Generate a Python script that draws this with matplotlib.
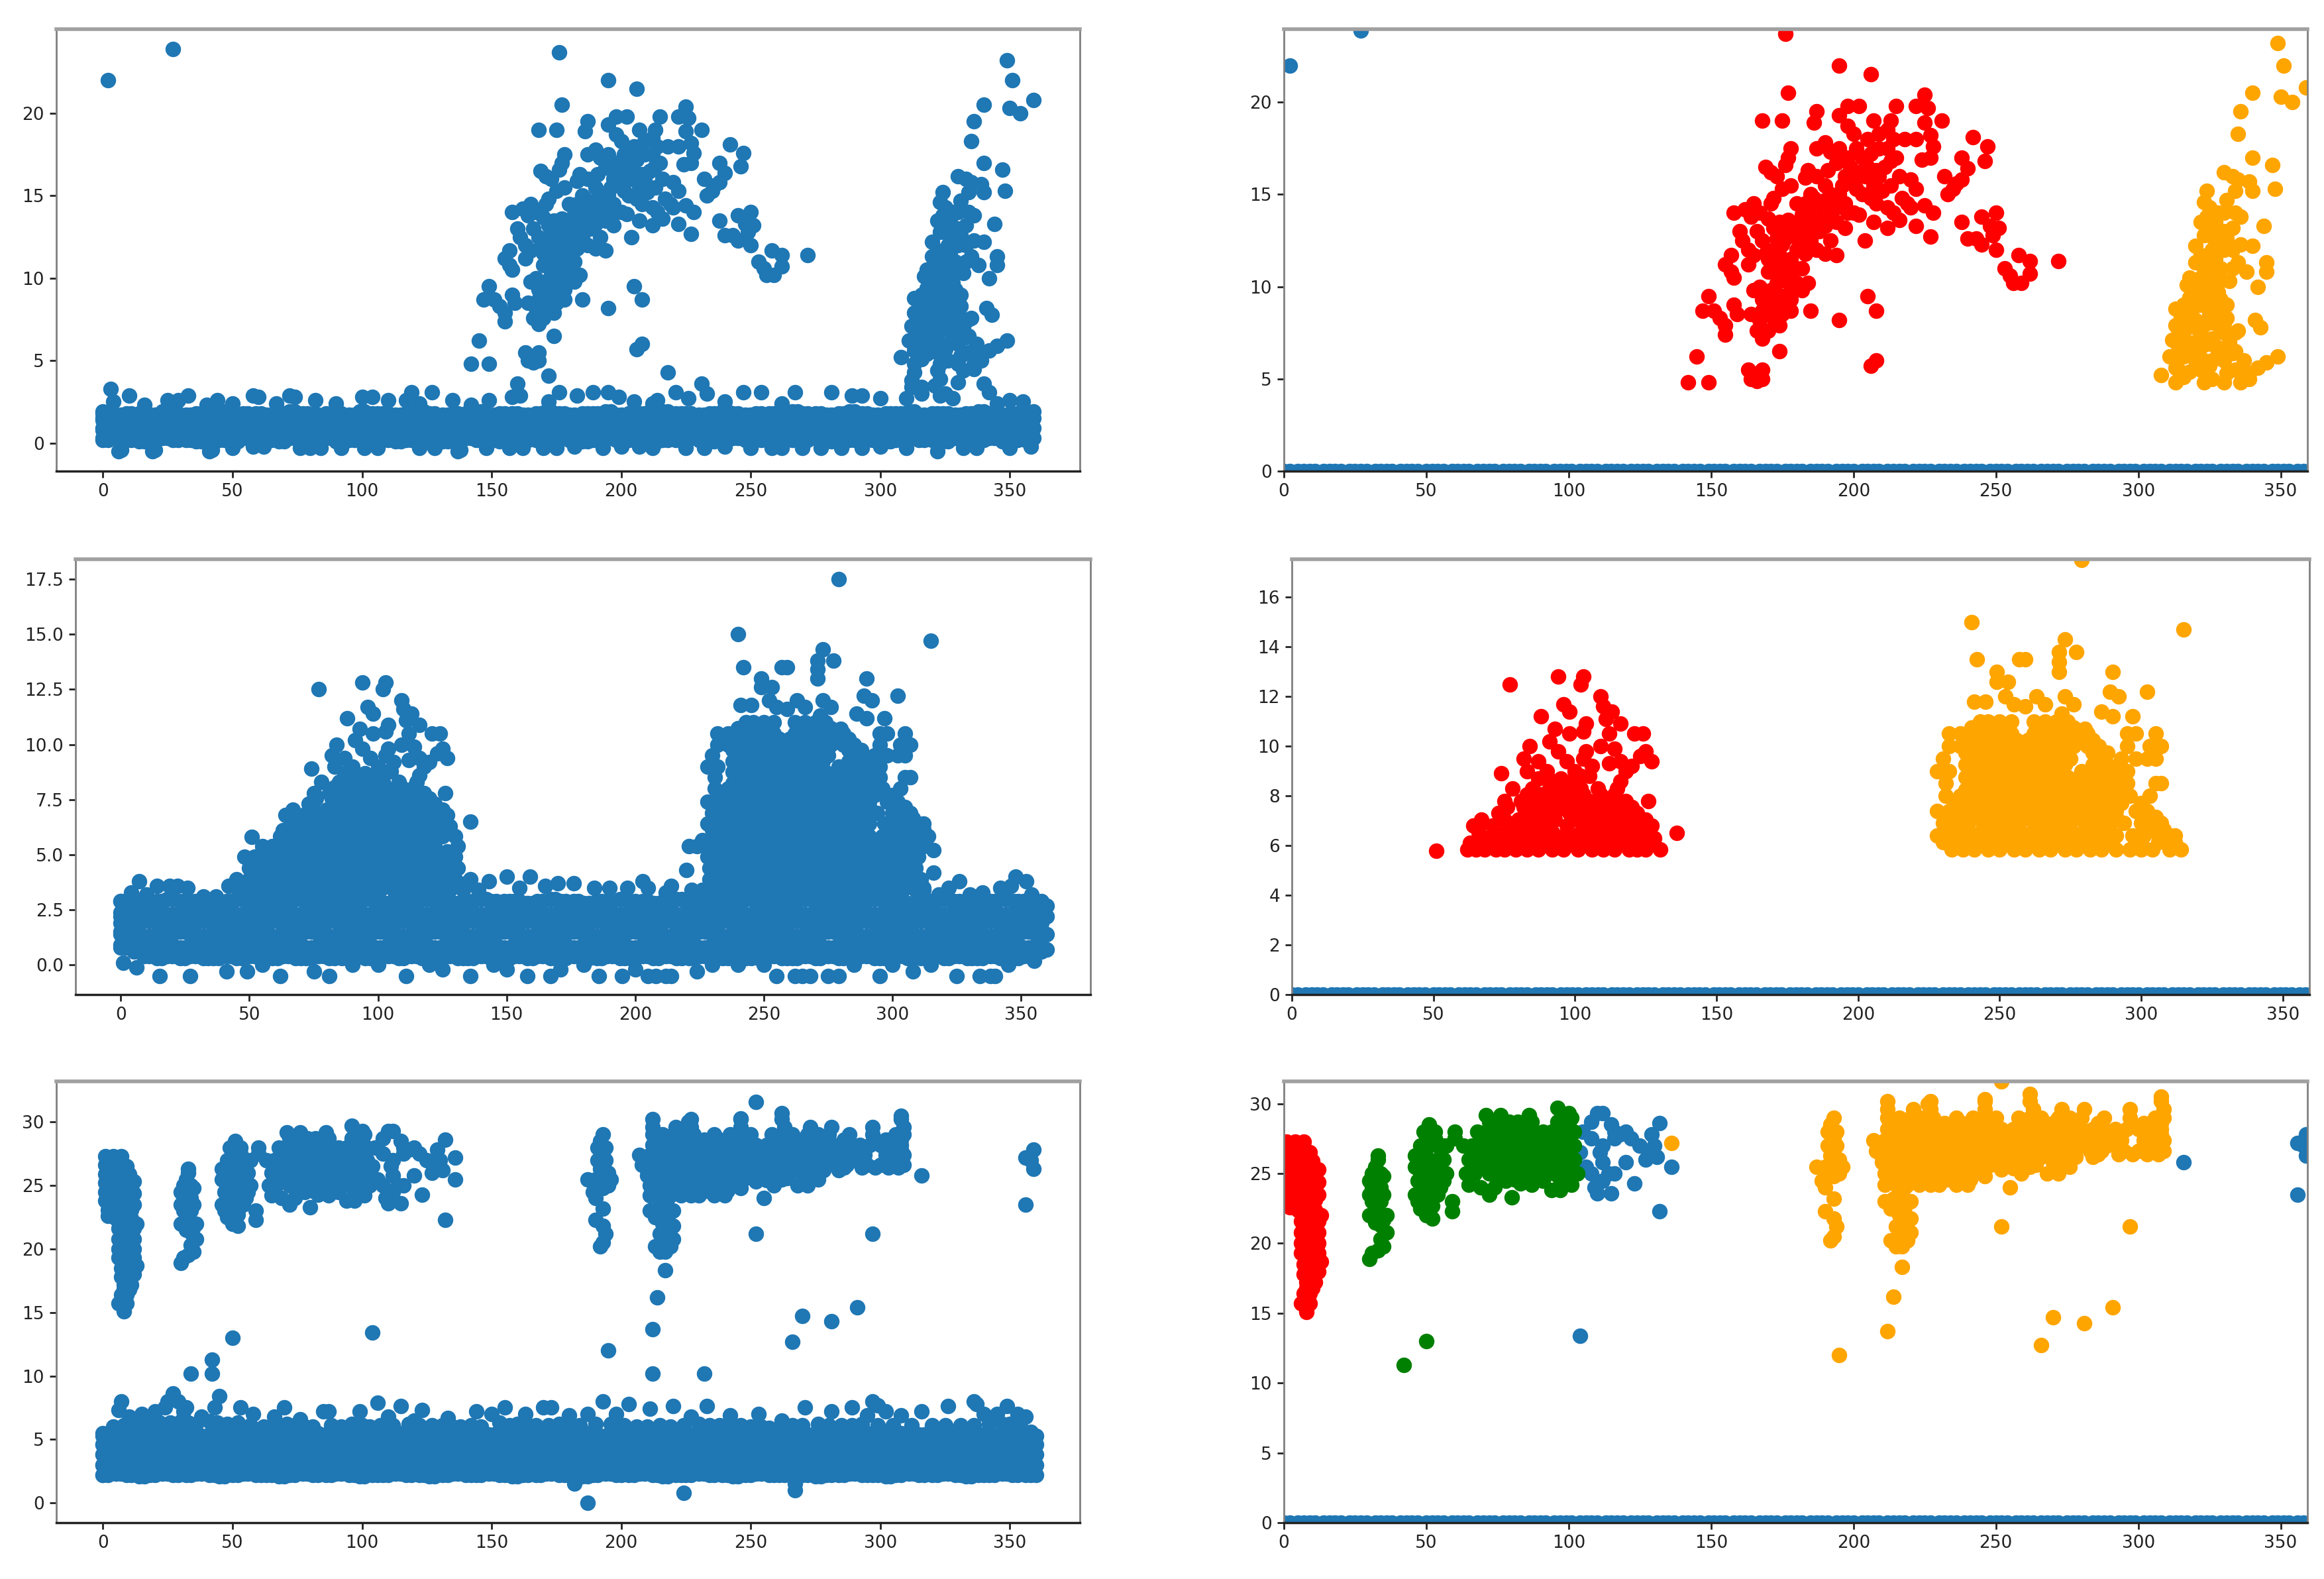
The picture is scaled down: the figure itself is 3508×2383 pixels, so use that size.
import matplotlib
matplotlib.use('Agg')
import matplotlib.pyplot as plt
import numpy as np

MARK = 285
BLUE = "#1f77b4"

# x positions of the saturated bands (estimated, points can't be told apart there)
x_a = [0,5,9,14,18,23,27,32,36,41,45,50,54,59,63,68,72,77,81,86,90,95,99,104,108,113,117,122,126,131,135,140,144,149,153,158,162,167,171,176,
       180,185,189,194,198,203,207,212,216,221,225,230,234,239,243,248,252,257,261,266,270,275,279,284,288,293,297,302,306,311,315,320,324,329,333,338,342,347,351,356]
x_b = [2,7,11,16,20,25,29,34,38,43,47,52,56,61,65,70,74,79,83,88,92,97,101,106,110,115,119,124,128,133,137,142,146,151,155,160,164,169,173,178,
       182,187,191,196,200,205,209,214,218,223,227,232,236,241,245,250,254,259,263,268,272,277,281,286,290,295,299,304,308,313,317,322,326,331,335,340,344,349,353,358]

# ---- first row ----
top_band = [
 [0.2,0.3,0.2,0.1,0.2,0.3,0.2,0.2,0.1,0.3,0.2,0.1,0.3,0.2,0.2,0.1,0.3,0.2,0.2,0.3,0.1,0.2,0.3,0.2,0.2,0.1,0.2,0.3,0.2,0.1,0.2,0.3,0.2,0.2,0.1,0.3,0.2,0.2,0.1,0.3,
  0.2,0.1,0.2,0.3,0.2,0.2,0.3,0.1,0.2,0.2,0.3,0.2,0.1,0.2,0.3,0.2,0.2,0.1,0.3,0.2,0.2,0.3,0.1,0.2,0.2,0.3,0.2,0.1,0.2,0.3,0.2,0.2,0.1,0.3,0.2,0.2,0.3,0.1,0.2,0.2],
 [0.8,0.7,0.9,0.8,0.7,0.8,0.9,0.7,0.8,0.8,0.9,0.7,0.8,0.9,0.8,0.7,0.8,0.9,0.7,0.8,0.8,0.7,0.9,0.8,0.8,0.7,0.9,0.8,0.7,0.8,0.9,0.8,0.7,0.8,0.8,0.9,0.7,0.8,0.9,0.8,
  0.7,0.8,0.9,0.8,0.7,0.8,0.8,0.9,0.7,0.8,0.9,0.8,0.7,0.8,0.8,0.9,0.7,0.8,0.8,0.7,0.9,0.8,0.8,0.7,0.9,0.8,0.7,0.8,0.9,0.8,0.8,0.7,0.9,0.8,0.7,0.8,0.9,0.8,0.7,0.8],
 [1.4,1.3,1.4,1.5,1.3,1.4,1.4,1.5,1.3,1.4,1.3,1.5,1.4,1.4,1.3,1.5,1.4,1.3,1.4,1.5,1.4,1.3,1.4,1.5,1.4,1.3,1.4,1.5,1.3,1.4,1.4,1.5,1.3,1.4,1.4,1.3,1.5,1.4,1.3,1.4,
  1.5,1.4,1.3,1.4,1.4,1.5,1.3,1.4,1.4,1.5,1.3,1.4,1.4,1.3,1.5,1.4,1.3,1.4,1.5,1.4,1.3,1.4,1.4,1.5,1.3,1.4,1.5,1.4,1.3,1.4,1.4,1.5,1.3,1.4,1.4,1.3,1.5,1.4,1.3,1.4],
 [1.8,1.7,1.8,1.8,1.7,1.9,1.8,1.7,1.8,1.8,1.9,1.7,1.8,1.8,1.7,1.8,1.9,1.8,1.7,1.8,1.8,1.7,1.9,1.8,1.8,1.7,1.8,1.9,1.8,1.7,1.8,1.8,1.9,1.7,1.8,1.8,1.7,1.8,1.9,1.8,
  1.7,1.8,1.8,1.9,1.7,1.8,1.8,1.7,1.9,1.8,1.8,1.7,1.8,1.9,1.8,1.7,1.8,1.8,1.7,1.9,1.8,1.8,1.7,1.8,1.9,1.8,1.7,1.8,1.8,1.9,1.7,1.8,1.8,1.7,1.8,1.9,1.8,1.7,1.8,1.8],
]
top_extra = [(0,0.3),(0,0.9),(0,1.5),(0,1.9),(359,0.3),(359,0.9),(359,1.5),(359,1.9),
 (3,3.3),(10,2.9),(4,2.5),(16,2.3),(25,2.6),(33,2.9),(29,2.6),(44,2.6),(58,2.9),(60,2.8),(72,2.9),(74,2.8),(82,2.6),(90,2.4),(100,2.8),(104,2.8),(110,2.6),(119,3.1),(117,2.6),(127,3.1),
 (135,2.6),(149,2.6),(160,3.6),(158,2.8),(161,2.9),(176,3.1),(172,2.5),(183,2.9),(189,3.1),(195,3.1),(199,2.8),(212,2.4),(218,4.3),(221,3.1),(214,2.6),(231,3.6),(233,3),(226,2.7),(247,3.1),
 (254,3.1),(267,3.1),(281,3.1),(289,2.9),(293,2.9),(300,2.7),(310,2.7),(316,3),(312,3.4),(321,3.5),(323,2.9),(340,3.6),(342,3.1),(328,2.7),(345,2.4),(350,2.6),(355,2.5),(262,2.4),(240,2.5),
 (205,2.5),(40,2.3),(50,2.4),(67,2.4),(122,2.4),(142,2.3),(172,4.1),(312,3.8),(313,4.3),(323,3.9),(322,4.4),(330,3.7),(332,4.4),(336,4.5),(325,3),(316,3.4),
 (6,-0.5),(7,-0.4),(19,-0.5),(20,-0.4),(41,-0.5),(42,-0.4),(50,-0.3),(58,-0.2),(62,-0.2),(76,-0.3),(80,-0.3),(84,-0.3),(92,-0.3),(101,-0.3),(106,-0.3),(122,-0.3),(128,-0.3),(137,-0.5),(138,-0.4),
 (148,-0.3),(157,-0.3),(162,-0.3),(170,-0.3),(175,-0.3),(182,-0.2),(193,-0.3),(200,-0.2),(207,-0.2),(212,-0.3),(225,-0.3),(232,-0.3),(240,-0.2),(250,-0.3),(258,-0.3),(262,-0.3),(270,-0.3),
 (277,-0.3),(285,-0.3),(293,-0.3),(300,-0.2),(310,-0.3),(322,-0.5),(332,-0.3),(337,-0.3),(350,-0.3),(358,-0.2)]
top_other = [(2,22),(27,23.9)]
top_red = [(176,23.7),(195,22),(206,21.5),(177,20.5),(225,20.4),(222,19.8),(226,19.7),(215,19.8),(198,19.8),(202,19.8),(187,19.5),(195,19.3),(168,19),(175,19),(186,18.9),(231,19),(207,19),(213,19),
 (225,18.9),(198,18.7),(200,18.3),(227,18.2),(218,18),(222,18),(242,18.1),(228,17.6),(247,17.6),(190,17.8),(187,17.5),(192,17.3),(195,17.5),(178,17.5),(177,17),(176,16.6),(246,16.8),(238,17),
 (227,17),(224,16.9),(240,16.4),(169,16.5),(171,16.2),(173,16),(184,16.3),(183,15.9),(232,16),(238,15.8),(236,15.6),(220,15.8),(222,15.3),(178,15.5),(175,15.3),(233,15),(235,15.3),(172,14.8),
 (171,14.5),(165,14.5),(162,14.2),(158,14),(167,14),(164,13.8),(170,13.7),(172,13.2),(177,13.6),(182,13.9),(185,14),(238,13.5),(245,13.8),(250,14),(248,13.3),(251,13.2),(249,12.8),(243,12.6),
 (245,12.3),(240,12.6),(227,12.7),(222,13.3),(228,14),(225,14.4),(220,14.3),(204,12.5),(212,13.2),(216,13.6),(197,13.2),(202,13.9),(207,13.5),(250,12),(258,11.7),(262,11.4),(272,11.4),(262,10.7),
 (253,11),(255,10.6),(256,10.2),(259,10.2),(190,11.8),(183,11.8),(194,11.7),(187,12),(160,13),(161,12.5),(163,12),(157,11.7),(155,11.2),(157,10.8),(158,10.5),(163,11.2),(165,11.7),(170,11.5),
 (174,11.7),(176,11),(178,10.7),(173,10.2),(167,10),(165,9.8),(168,9.3),(172,9.2),(175,9.5),(180,10.2),(184,10.2),(182,9.8),(178,9.3),(149,9.5),(158,9),(159,8.5),(147,8.7),(151,8.7),(153,8.3),
 (155,7.9),(155,7.4),(164,8.5),(168,8.7),(172,8.3),(175,8.5),(178,8.7),(185,8.7),(195,8.2),(205,9.5),(208,8.7),(166,7.6),(168,7.2),(170,7.6),(174,7.9),(174,6.5),(145,6.2),(208,6),(206,5.7),
 (163,5.5),(168,5.5),(164,5),(166,4.9),(168,5),(142,4.8),(149,4.8),
 (185,15),(188,14.5),(190,15.5),(192,14),(195,15),(197,16),(199,16.5),(201,15.3),(203,17),(205,16.5),(207,15.5),(209,17.5),(211,16.5),(213,15.5),(215,17),(205,18),(209,18.3),(212,18.5),(197,14.5),
 (200,14),(203,15),(208,14.5),(212,14.3),(214,14),(188,13),(190,13.3),(192,12.5),(185,12.5),(182,12.8),(178,12.8),(175,12.3),(172,12),(180,12),(182,11),(178,11.5),(186,13.5),(194,13.5),(198,17),
 (201,17.5),(180,13.3),(183,14.5),(187,16),(191,16.3),(194,16.7),(217,14.8),(219,14.5),(216,16),(214,18),
 (204,16),(208,16.3),(212,17.5),(206,17.2),(210,15.2),(200,15.8),(194,14.3),(190,14.7),(186,14.8),(181,12.3),(176,12.6),(173,11),(178,10),(170,10.8),(168,12.5),(166,13),(174,13.5),(184,13.2),
 (202,16.2),(206,14.8),(209,16),(213,16.8),(196,15.5),(198,14),(192,15),(188,13.8),(184,14),(180,14.5),(176,13),(173,12.6),(169,11.8),(171,9.8),(176,10.4),(180,11),(175,8.9),(170,8.9),(167,8.2)]
top_orange = [(349,23.2),(351,22),(359,20.8),(340,20.5),(350,20.3),(354,20),(336,19.5),(335,18.3),(340,17),(347,16.6),(330,16.2),(333,16),(335,15.8),(339,15.7),(340,15.2),(348,15.3),(334,15.2),(324,15.2),
 (323,14.6),(325,14.3),(331,14.7),(334,14),(336,13.8),(328,14),(322,13.5),(327,13.3),(344,13.3),(330,13),(333,13.2),(323,12.8),(326,12.7),(320,12.2),(322,11.7),(326,12),(329,12.3),(333,12),(336,12.3),
 (340,12.2),(320,11.3),(325,11),(335,11.3),(338,10.8),(345,11.3),(345,10.8),(328,10.7),(332,10.3),(342,10),(317,10.1),(321,10),(324,10.2),(328,9.7),(318,9.4),(322,9),(326,9),(329,9.3),(313,8.8),
 (315,8.3),(328,8.5),(324,8),(341,8.2),(343,7.8),(313,7.9),(316,7.5),(320,7.8),(312,7.1),(317,7),(322,6.7),(330,7.5),(332,7),(335,7.6),(326,7.2),(328,6.5),(333,6.4),(311,6.2),(316,6.2),(320,6),
 (337,6),(349,6.2),(345,5.9),(342,5.6),(339,5.3),(313,5.6),(318,5.4),(325,5.7),(331,5.3),(308,5.2),(313,4.8),(323,4.8),(330,4.8),(336,4.8),(339,5),(324,5.2),(334,5.5),(316,5.1),
 (314,6.8),(318,8.5),(320,7),(323,6),(319,8.8),(316,9),(323,9.5),(326,10),(322,10.5),(325,11.7),(329,11),(330,8),(327,8),(322,7.5),(318,6.5),(314,5.5),(322,5.5),(326,6),(330,6),(334,6.5),
 (331,9),(333,11),(330,12),(327,13.5),(330,14),(325,13),(324,11.5),(320,9.5),(326,5),(334,7.5),(331,8.3),
 (318,10.5),(323,11),(327,11.5),(325,9.6),(328,10.2),(320,8.2),(317,8),(314,7.4),(320,6.5),(324,6.9),(327,6.8),(329,7.8),(325,8.5),(316,6.7),(331,6.7),(331,12.6),(328,12.8),(324,13.8)]

# ---- second row ----
mid_band = [
 [0.8,0.6,0.4,0.3,0.4,0.3,0.4,0.3,0.3,0.4,0.3,0.4,0.3,0.3,0.4,0.3,0.3,0.4,0.3,0.3,0.4,0.3,0.3,0.4,0.3,0.4,0.3,0.3,0.4,0.3,0.3,0.4,0.3,0.3,0.4,0.3,0.4,0.3,0.3,0.4,
  0.3,0.3,0.4,0.3,0.3,0.4,0.3,0.4,0.3,0.3,0.4,0.3,0.3,0.4,0.3,0.3,0.4,0.3,0.3,0.4,0.3,0.4,0.3,0.3,0.4,0.3,0.3,0.4,0.3,0.3,0.4,0.3,0.4,0.3,0.3,0.4,0.3,0.3,0.4,0.6],
 [0.9,0.9,0.8,0.9,0.9,0.8,0.9,0.9,0.8,0.9,0.9,0.8,0.9,0.8,0.9,0.9,0.8,0.9,0.9,0.8,0.9,0.9,0.8,0.9,0.9,0.8,0.9,0.8,0.9,0.9,0.8,0.9,0.9,0.8,0.9,0.9,0.8,0.9,0.9,0.8,
  0.9,0.8,0.9,0.9,0.8,0.9,0.9,0.8,0.9,0.9,0.8,0.9,0.8,0.9,0.9,0.8,0.9,0.9,0.8,0.9,0.9,0.8,0.9,0.9,0.8,0.9,0.8,0.9,0.9,0.8,0.9,0.9,0.8,0.9,0.9,0.8,0.9,0.9,0.8,0.9],
 [1.4,1.4,1.3,1.4,1.4,1.5,1.4,1.3,1.4,1.4,1.5,1.4,1.4,1.3,1.4,1.4,1.5,1.4,1.3,1.4,1.4,1.4,1.5,1.4,1.3,1.4,1.4,1.5,1.4,1.4,1.3,1.4,1.4,1.5,1.4,1.3,1.4,1.4,1.4,1.5,
  1.4,1.3,1.4,1.4,1.5,1.4,1.4,1.3,1.4,1.4,1.5,1.4,1.3,1.4,1.4,1.4,1.5,1.4,1.3,1.4,1.4,1.5,1.4,1.4,1.3,1.4,1.4,1.5,1.4,1.3,1.4,1.4,1.4,1.5,1.4,1.3,1.4,1.4,1.5,1.4],
 [1.9,1.9,2.0,1.9,1.9,1.8,1.9,2.0,1.9,1.9,1.8,1.9,1.9,2.0,1.9,1.9,1.8,1.9,2.0,1.9,1.9,1.9,1.8,1.9,2.0,1.9,1.9,1.8,1.9,1.9,2.0,1.9,1.9,1.8,1.9,2.0,1.9,1.9,1.9,1.8,
  1.9,2.0,1.9,1.9,1.8,1.9,1.9,2.0,1.9,1.9,1.8,1.9,2.0,1.9,1.9,1.9,1.8,1.9,2.0,1.9,1.9,1.8,1.9,1.9,2.0,1.9,1.9,1.8,1.9,2.0,1.9,1.9,1.9,1.8,1.9,2.0,1.9,1.9,1.8,1.9],
 [2.4,2.4,2.5,2.4,2.3,2.4,2.4,2.5,2.4,2.4,2.3,2.4,2.5,2.4,2.4,2.3,2.4,2.4,2.5,2.4,2.4,2.3,2.4,2.5,2.4,2.4,2.3,2.4,2.4,2.5,2.4,2.3,2.4,2.4,2.4,2.5,2.4,2.3,2.4,2.4,
  2.5,2.4,2.4,2.3,2.4,2.4,2.5,2.4,2.3,2.4,2.4,2.5,2.4,2.4,2.3,2.4,2.4,2.5,2.4,2.3,2.4,2.4,2.4,2.5,2.4,2.3,2.4,2.4,2.5,2.4,2.4,2.3,2.4,2.4,2.5,2.4,2.3,2.4,2.4,2.4],
 [2.9,2.9,2.8,2.9,3.0,2.9,2.9,2.8,2.9,2.9,3.0,2.9,2.8,2.9,2.9,3.0,2.9,2.9,2.8,2.9,2.9,3.0,2.9,2.8,2.9,2.9,3.0,2.9,2.9,2.8,2.9,3.0,2.9,2.9,2.9,2.8,2.9,3.0,2.9,2.9,
  2.8,2.9,2.9,3.0,2.9,2.9,2.8,2.9,3.0,2.9,2.9,2.8,2.9,2.9,3.0,2.9,2.9,2.8,2.9,3.0,2.9,2.9,2.9,2.8,2.9,3.0,2.9,2.9,2.8,2.9,2.9,3.0,2.9,2.9,2.8,2.9,3.0,2.9,2.9,2.9],
]
mid_extra = [(1,0.1),(6,-0.1),(15,-0.5),(27,-0.5),(41,-0.3),(49,-0.3),(62,-0.5),(75,-0.3),(81,-0.5),(111,-0.5),(125,-0.2),(136,-0.5),(150,-0.2),(158,-0.5),(167,-0.5),(171,-0.2),(186,-0.5),(195,-0.5),(205,-0.5),
 (208,-0.5),(212,-0.5),(214,-0.5),(200,-0.2),(224,-0.3),(255,-0.5),(262,-0.5),(265,-0.5),(268,-0.5),(275,-0.5),(279,-0.5),(295,-0.5),(308,-0.3),(325,-0.5),(334,-0.5),(338,-0.5),(340,-0.5),(55,0),(90,0),(100,0),
 (120,0),(145,0),(180,0),(230,0),(240,0),(250,0),(285,0),(300,0),(315,0),(345,0),(355,0.2),(360,0.7),(360,1.4),(360,2.2),(360,2.7),(0,1.5),(0,2.2),(0,2.9),
 (7,3.8),(14,3.6),(19,3.6),(22,3.6),(26,3.5),(4,3.3),(10,3.2),(32,3.1),(37,3.1),(150,4),(159,4),(155,3.5),(143,3.8),(134,3.7),(165,3.6),(170,3.7),(176,3.7),(184,3.5),(190,3.5),(197,3.5),(203,3.8),(205,3.5),
 (214,3.6),(220,4.3),(212,3.3),(226,3.4),(222,3.4),(322,3.5),(326,3.8),(335,3.3),(342,3.5),(348,4),(352,3.8),(346,3.6),(354,3.2),(318,3.2),(316,4.2),(316,5.2),(330,3.2),(312,3.5),(42,3.6),(45,3.9),(46,3.4),(139,3.4)]
hump1_low = [
 (3.4, [47,52,56,61,65,70,74,79,83,88,92,97,101,106,110,115,119,124,128,133]),
 (3.65, [49,54,58,63,67,72,76,81,85,90,94,99,103,108,112,117,121,126,130]),
 (3.9, [50,54,59,63,68,72,77,81,86,90,95,99,104,108,113,117,122,126,130,136]),
 (4.15, [52,57,61,66,70,75,79,84,88,93,97,102,106,111,115,120,124,128]),
 (4.4, [50,55,60,64,69,73,78,82,87,91,96,100,105,109,114,118,123,127,131]),
 (4.65, [53,58,62,67,71,76,80,85,89,94,98,103,107,112,116,121,125]),
 (4.9, [48,52,57,61,66,70,75,79,84,88,93,97,102,106,111,115,120,124,130]),
 (5.15, [55,59,64,68,73,77,82,86,91,95,100,104,109,113,118,122,127]),
 (5.4, [55,59,64,68,73,77,82,86,91,95,100,104,109,113,118,122,131]),
]
hump2_low = [
 (3.4, [228,232,237,241,246,250,255,259,264,268,273,277,282,286,291,295,300,304,309,312]),
 (3.65, [230,235,239,244,248,253,257,262,266,271,275,280,284,289,293,298,302,307]),
 (3.9, [229,234,239,243,248,252,257,261,266,271,275,280,284,289,293,298,302,306,311]),
 (4.15, [231,236,241,245,250,254,259,263,268,273,277,282,286,291,296,300,304,308]),
 (4.4, [229,232,236,241,245,250,254,259,263,268,272,277,281,286,291,296,300,304,309]),
 (4.65, [230,234,239,243,248,252,257,261,266,270,275,279,284,288,293,298,302,307]),
 (4.9, [228,233,238,243,247,252,256,261,265,270,274,279,283,288,292,297,301,306,310]),
 (5.15, [231,235,240,245,249,254,258,263,267,272,276,281,285,290,294,299,303,308]),
 (5.4, [221,224,229,233,237,241,246,250,255,259,264,268,273,277,282,286,291,295,300,304,308,312]),
 (5.65, [226,231,235,239,243,248,252,257,261,266,270,275,279,284,288,293,297,302,306,310]),
]
hump1_rows = [
 (5.85, [62,65,68,72,75,79,83,87,92,96,101,106,110,114,119,122,125,130]),
 (6.1, [63,67,70,74,77,81,85,89,94,98,103,108,112,116,120,124,127]),
 (6.3, [69,74,78,82,85,90,95,100,105,110,115,120,125,128]),
 (6.55, [66,72,76,80,84,87,92,97,102,107,112,117,122,126]),
 (6.8, [64,66,71,78,82,86,91,97,103,108,113,118,124,127]),
 (7.05, [67,75,80,84,88,93,99,105,110,115,120,125]),
 (7.3, [73,84,88,93,98,103,108,113,117,122]),
 (7.55, [76,82,86,91,96,101,106,110,115,120]),
 (7.8, [75,81,86,90,95,100,105,112,118,126]),
 (8.05, [83,88,93,98,103,109,114]),
 (8.3, [78,85,91,96,102,108,115]),
]
hump1_sparse = [(77,12.5),(94,12.8),(103,12.8),(102,12.5),(109,12),(110,11.6),(96,11.7),(98,11.4),(113,11.4),(88,11.2),(104,10.9),(111,11.1),(116,10.9),(93,10.7),(98,10.5),(103,10.6),(112,10.5),(121,10.5),
 (124,10.5),(91,10.2),(84,10),(94,9.8),(104,9.8),(109,10),(114,9.9),(125,9.8),(82,9.5),(87,9.4),(97,9.4),(103,9.5),(116,9.4),(123,9.6),(127,9.4),(74,8.9),(83,9),(90,9),(100,9),(106,9.2),(112,9.3),(118,9),
 (120,9.2),(136,6.5),(51,5.8),(95,8.7),(116,8.6),(87,8.7),(105,8.8),(99,8.6),(102,8.8),(92,8.6)]
hump2_rows = [
 (5.85, [233,237,241,246,250,255,259,264,268,273,277,282,286,291,296,300,304,310,314]),
 (6.15, [230,235,239,244,248,253,257,262,266,271,275,280,284,289,300,306,312]),
 (6.4, [228,232,237,241,246,250,255,259,264,268,273,277,282,286,291,297,301,306,310,312]),
 (6.65, [234,239,244,248,253,257,262,266,271,275,280,284,289,304,308]),
 (6.9, [230,235,239,244,248,253,257,262,266,271,275,280,284,289,294,300,303,307]),
 (7.15, [233,237,242,246,251,255,260,264,269,273,278,282,287,291,305]),
 (7.4, [228,232,237,241,246,250,255,259,264,268,273,277,282,286,291,298,302]),
 (7.7, [234,239,243,248,252,257,261,266,270,275,279,284,288,293,300]),
 (8.0, [231,236,240,245,249,254,258,263,267,272,276,281,285,290,296,303]),
 (8.25, [238,242,247,251,256,260,265,269,274,278,283,287,292]),
 (8.5, [231,240,244,249,253,258,262,267,271,276,280,285,290,295,305,307]),
 (8.75, [238,242,247,251,256,260,265,269,274,278,283,288,293]),
 (9.0, [228,232,240,245,249,254,258,263,267,271,279,285,290,295]),
 (9.25, [238,242,247,251,256,260,265,269,273,283,288,292]),
 (9.5, [230,240,244,249,253,258,262,267,270,275,285,293,298,302,305]),
 (9.75, [238,242,247,251,256,260,265,269,273,283,288]),
 (10.0, [232,236,240,245,249,254,258,263,267,272,276,281,285,295,303,307]),
 (10.25, [238,243,247,252,256,260,265,269,274,278,283]),
 (10.5, [232,236,242,246,250,254,262,266,270,275,281,295,298,305]),
 (10.75, [240,244,248,252,264,268,272,276]),
 (11.0, [243,246,250,254,262,266,270,274]),
]
hump2_sparse = [(279,17.5),(240,15),(315,14.7),(273,14.3),(277,13.8),(271,13.8),(271,13.4),(242,13.5),(257,13.5),(259,13.5),(249,13),(271,13),(290,13),(249,12.6),(253,12.6),(289,12.2),(302,12.2),(292,12),(252,12),
 (263,12),(273,12),(241,11.8),(245,11.8),(255,11.7),(259,11.6),(266,11.7),(276,11.7),(272,11.3),(286,11.4),(290,11.2),(297,11.2),(280,10.7)]

# ---- third row ----
low_band = [
 [2.2,2.3,2.2,2.1,2.2,2.3,2.2,2.2,2.3,2.2,2.1,2.2,2.3,2.2,2.2,2.1,2.2,2.3,2.2,2.2,2.3,2.2,2.1,2.2,2.2,2.3,2.2,2.2,2.1,2.2,2.3,2.2,2.2,2.3,2.2,2.1,2.2,2.2,2.3,2.2,
  2.2,2.1,2.2,2.3,2.2,2.2,2.3,2.2,2.1,2.2,2.2,2.3,2.2,2.2,2.1,2.2,2.3,2.2,2.2,2.3,2.2,2.1,2.2,2.2,2.3,2.2,2.2,2.1,2.2,2.3,2.2,2.2,2.3,2.2,2.1,2.2,2.2,2.3,2.2,2.2],
 [3.0,3.1,2.9,3.0,3.0,3.1,3.0,2.9,3.0,3.1,3.0,3.0,2.9,3.0,3.1,3.0,3.0,2.9,3.0,3.1,3.0,2.9,3.0,3.0,3.1,3.0,2.9,3.0,3.0,3.1,3.0,3.0,2.9,3.0,3.1,3.0,2.9,3.0,3.0,3.1,
  3.0,2.9,3.0,3.1,3.0,3.0,2.9,3.0,3.1,3.0,3.0,2.9,3.0,3.1,3.0,2.9,3.0,3.0,3.1,3.0,2.9,3.0,3.0,3.1,3.0,3.0,2.9,3.0,3.1,3.0,2.9,3.0,3.0,3.1,3.0,2.9,3.0,3.0,3.1,3.0],
 [3.8,3.9,3.8,3.7,3.8,3.8,3.9,3.8,3.7,3.8,3.9,3.8,3.8,3.7,3.8,3.9,3.8,3.8,3.7,3.8,3.9,3.8,3.7,3.8,3.8,3.9,3.8,3.7,3.8,3.8,3.9,3.8,3.8,3.7,3.8,3.9,3.8,3.7,3.8,3.8,
  3.9,3.8,3.7,3.8,3.9,3.8,3.8,3.7,3.8,3.9,3.8,3.8,3.7,3.8,3.9,3.8,3.7,3.8,3.8,3.9,3.8,3.7,3.8,3.8,3.9,3.8,3.8,3.7,3.8,3.9,3.8,3.7,3.8,3.8,3.9,3.8,3.7,3.8,3.8,3.9],
 [4.6,4.7,4.6,4.5,4.6,4.6,4.7,4.6,4.5,4.6,4.7,4.6,4.6,4.5,4.6,4.7,4.6,4.6,4.5,4.6,4.7,4.6,4.5,4.6,4.6,4.7,4.6,4.5,4.6,4.6,4.7,4.6,4.6,4.5,4.6,4.7,4.6,4.5,4.6,4.6,
  4.7,4.6,4.5,4.6,4.7,4.6,4.6,4.5,4.6,4.7,4.6,4.6,4.5,4.6,4.7,4.6,4.5,4.6,4.6,4.7,4.6,4.5,4.6,4.6,4.7,4.6,4.6,4.5,4.6,4.7,4.6,4.5,4.6,4.6,4.7,4.6,4.5,4.6,4.6,4.7],
 [5.3,5.4,5.5,5.4,5.5,5.4,5.5,5.4,5.3,5.4,5.5,5.4,5.5,5.4,5.4,5.5,5.3,5.4,5.5,5.4,5.4,5.5,5.4,5.3,5.4,5.5,5.4,5.5,5.4,5.4,5.3,5.5,5.4,5.4,5.5,5.4,5.3,5.4,5.5,5.4,
  5.4,5.5,5.4,5.3,5.4,5.5,5.4,5.4,5.5,5.3,5.4,5.5,5.4,5.4,5.5,5.4,5.3,5.4,5.5,5.4,5.4,5.5,5.4,5.3,5.4,5.5,5.4,5.4,5.5,5.3,5.4,5.5,5.4,5.4,5.5,5.4,5.3,5.4,5.5,5.4],
]
low_extra = [(0,2.2),(0,3),(0,3.8),(0,4.6),(0,5.5),(360,2.2),(360,3),(360,3.8),(360,4.6),(360,5.3),(358,5.6),
 (7,8),(6,7.3),(10,6.8),(15,7),(20,7.2),(25,8),(27,8.6),(29,8),(24,7.5),(31,7.2),(32,7.5),(43,7.5),(45,8.4),(38,6.8),(53,7.5),(58,7),(70,7.5),(66,6.8),(76,6.6),(85,7.2),(87,7.2),(99,7.2),(106,7.9),(115,7.6),(110,6.8),
 (123,7.3),(133,6.7),(144,7.2),(155,7.5),(150,7),(163,7),(170,7.5),(173,7.5),(180,6.9),(187,7),(193,8),(198,7),(203,7.8),(211,7.4),(220,7.6),(227,6.8),(233,7.6),(242,6.9),(253,7),(271,7.5),(281,7.2),(289,7.5),(295,6.9),
 (297,8),(299,7.7),(302,7.2),(308,6.9),(316,7.2),(326,7.6),(336,8),(337,7.8),(349,7.6),(345,7),(353,7),(356,6.8),(340,7),(262,6.5),(120,6.5),
 (4,6),(8,6.1),(12,6.1),(15,6.2),(18,6.2),(22,6.3),(26,6.3),(30,6.4),(33,6.3),(36,6.2),(41,6.4),(44,6.3),(48,6.2),(52,6.3),(57,6.1),(62,6),(65,6),(68,6.1),(71,6.2),(74,6.1),(78,6),(81,6),(88,6.1),(92,6),(96,6.2),(100,6.1),(103,6),(107,6.1),(112,6.1),(118,6.2),(122,6.1),
 (127,6.1),(131,6.1),(135,6),(138,6),(142,6.1),(146,6),(153,6.3),(157,6.1),(160,6.2),(164,6.1),(167,6.1),(172,6.1),(176,6.2),(180,6.1),
 (184,6.1),(190,6.2),(196,6.2),(201,6.1),(206,6),(210,6),(215,6.1),(219,6),(224,6.1),(230,6.2),(234,6.1),(238,6.1),(242,6.1),(246,6.1),(250,6),(254,6),(257,5.9),(266,6.1),(270,6.1),(276,6.2),(280,6.1),(285,6.1),(289,6.1),(293,6.2),(299,6.1),(305,6.1),(312,6.1),(320,6.1),(325,6.1),(331,6.1),(336,6.1),(342,6.2),(347,6.2),(350,6.2),(354,6),
 (182,1.5),(187,0),(224,0.8),(267,1),(267,1.5),(34,10.2),(42,10.2),(212,10.2),(232,10.2)]
low_red = [(1,27.3),(4,27.3),(7,27.3),(1,26.6),(4,26.6),(7,26.6),(9,26.5),(1,25.9),(4,25.9),(7,25.9),(10,25.9),(1,25.2),(4,25.2),(7,25.2),(10,25.2),(12,25.3),(1,24.5),(4,24.5),(7,24.5),(10,24.5),(12,24.4),
 (1,23.8),(4,23.8),(7,23.8),(10,23.8),(12,23.5),(2,23.1),(5,23.1),(8,23.1),(11,23.1),(2,22.6),(5,22.4),(8,22.4),(11,22.4),(13,22),(6,21.6),(9,21.6),(12,21.6),(6,20.8),(9,20.8),(12,20.8),(6,20),(9,20),(12,20),
 (6,19.3),(9,19.3),(12,19.3),(13,18.7),(7,18.5),(10,18.5),(7,17.8),(10,17.8),(12,18),(8,17.2),(11,17.2),(7,16.4),(9,16.4),(6,15.7),(9,15.7),(8,15.1),
 (3,27),(6,27),(2,26.2),(5,26.2),(8,26.2),(3,25.5),(6,25.5),(9,25.5),(3,24.8),(6,24.8),(9,24.8),(3,24.1),(6,24.1),(9,24.1),(4,23.4),(7,23.4),(10,23.4),(7,22.8),(10,22.8),(8,22),(11,22),(8,21.2),(11,21.2),(8,20.4),(11,20.4),(8,19.6),(11,19.6),(8,18.9),(11,18.9),(9,18.2),(9,17.5),(8,16.8),(10,16.8),(8,16.1)]
low_green = [(30,18.9),(31,19.3),(33,19.5),(35,19.8),(34,20.3),(36,20.8),(34,21.3),(30,22),(33,22),(36,22),(31,23),(34,23),(31,24),(34,24),(31,25),(34,25),(32,25.5),(33,26),(33,26.3),(30,24.5),(30,23.5),(35,24.8),(35,23.5),
 (46,26.3),(49,28),(51,28.5),(53,28),(48,27),(51,27),(54,27),(56,27),(46,25.5),(49,25.5),(52,25.5),(55,25.5),(47,24.5),(50,24.5),(53,24.5),(56,24.5),(46,23.5),(49,23.5),(52,23.5),(48,22.5),(50,22),(52,21.8),(59,23),(59,22.3),
 (60,28),(56,26),(49,26.5),(47,23),(54,23.5),(57,25),(57,27),(42,11.3),(50,13),
 (32,22.5),(32,23.5),(33,24.5),(32,21.5),(35,21.7),(48,26),(51,26),(54,26),(48,25),(51,25),(54,25),(49,24),(52,24),(55,24),(50,23),(52,22.7),(50,27.5),(53,27.5),
 (65,24.2),(69,24),(72,23.5),(80,23.3),(94,23.8),(97,23.8),(101,24.2),(74,24),(78,24.5),(83,24.3),(87,24.2),(91,24.5),
 (64,25),(67,25),(72,25),(76,25),(79,25),(83,25),(86,25),(90,25),(95,25),(100,25),(103,25),
 (65,26),(68,26),(71,26),(74,26),(77,26),(80,26),(83,26),(86,26),(89,26),(93,26),(96,26),(99,26),(102,26),
 (63,27),(66,27),(69,27),(72,27),(75,27),(78,27),(81,27),(84,27),(87,27),(90,27),(93,27),(96,27),(99,27),(102,27),
 (60,27.5),(68,28),(71,28),(73,28),(76,28),(79,28),(82,28),(85,28),(88,28),(91,28),(94,28),(97,28),(100,28),(102,28),
 (72,28.7),(75,28.7),(79,28.7),(82,28.7),(85,28.7),(87,28.7),(96,28.7),(100,28.7),(71,29.2),(76,29.2),(86,29.2),(96,29.7),(100,29.3),(101,29),
 (66,25.5),(70,25.5),(74,25.5),(78,25.5),(82,25.5),(85,25.5),(88,25.5),(92,25.5),(97,25.5),(101,25.5),(67,26.5),(70,26.5),(73,26.5),(76,26.5),(79,26.5),(82,26.5),(85,26.5),(88,26.5),(91,26.5),(94,26.5),(97,26.5),(100,26.5),
 (70,27.5),(73,27.5),(76,27.5),(79,27.5),(82,27.5),(85,27.5),(88,27.5),(91,27.5),(94,27.5),(97,27.5),(100,27.5),(75,24.6),(81,24.6),(85,24.6),(97,24.6)]
low_blue = [(104,13.4),(112,29.3),(110,29.3),(108,28.7),(115,28.5),(105,28),(108,27.5),(112,27),(116,27.5),(120,28),(122,27.5),(125,27),(128,26.5),(130,27),(129,27.8),(132,28.6),(127,26),(131,26.2),(120,25.8),(106,25.5),
 (108,25),(112,25.8),(114,25),(116,25),(111,26.5),(104,26.5),(109,24),(112,24.5),(110,23.6),(115,23.6),(123,24.3),(132,22.3),(136,25.5),(116,28),(118,27.8),(316,25.8),(356,23.5),(359,27.8),(358,27),(359,26.3),(356,27.2)]
low_orange = [(136,27.2),(187,25.5),(190,25.5),(193,25.5),(196,25.5),(195,26),(190,24),(189,24.5),(193,23.2),(190,22.3),(193,21.8),(194,21.2),(193,20.5),(192,20.2),(191,27),(194,27),(191,28),(194,28),(193,29),(195,25),(193,24.8),
 (195,12),(212,13.7),(214,16.2),(217,18.3),(252,21.2),(297,21.2),(266,12.7),(270,14.7),(281,14.3),(291,15.4),(252,31.6),
 (192,26.3),(193,27.5),(192,28.5),
 (213,20.2),(215,19.8),(217,19.8),(219,20.2),(220,20.8),(218,21.5),(220,21.8),(216,22),(213,22.5),(218,22.6),(211,23),(214,23.2),(217,23.3),(220,23),(216,20.7),(215,21.2),(218,24),
 (211,24.2),(215,24.2),(219,24.2),(223,24.2),(227,24.2),(230,24.2),(236,24.2),(240,24.2),
 (213,24.6),(217,24.6),(221,24.6),(225,24.6),(229,24.6),(233,24.6),(237,24.6),(241,24.6),
 (211,25),(215,25),(219,25),(223,25),(227,25),(231,25),(235,25),(239,25),(242,25),
 (212,25.4),(216,25.4),(220,25.4),(224,25.4),(228,25.4),(232,25.4),(236,25.4),(240,25.4),(244,25.6),(248,25.6),(256,25.4),(264,25.6),
 (210,25.8),(214,25.8),(218,25.8),(222,25.8),(226,25.8),(230,25.8),(234,25.8),(238,25.8),(246,25.8),(250,25.8),(254,25.8),(258,25.8),(262,25.8),(270,25.8),(274,25.8),
 (210,26.2),(214,26.2),(218,26.2),(222,26.2),(226,26.2),(230,26.2),(234,26.2),(238,26.2),(242,26.2),(246,26.2),(250,26.2),(254,26.2),(258,26.2),(262,26.2),(266,26.2),(272,26.2),(278,26.2),(286,26.4),(293,26.4),(298,26.4),(303,26.4),(307,26.4),
 (208,26.6),(212,26.6),(216,26.6),(220,26.6),(224,26.6),(228,26.6),(232,26.6),(236,26.6),(240,26.6),(244,26.6),(248,26.6),(252,26.6),(256,26.6),(260,26.6),(264,26.6),(268,26.6),(272,26.6),(276,26.6),(283,26.6),(287,26.6),(295,26.6),(300,26.6),(305,26.6),(309,26.6),
 (209,27),(213,27),(217,27),(221,27),(225,27),(229,27),(233,27),(237,27),(241,27),(245,27),(249,27),(253,27),(257,27),(261,27),(265,27),(269,27),(273,27),(277,27),(281,27),(285,27),(289,27),(293,27),(304,27),(308,27),
 (207,27.4),(211,27.4),(215,27.4),(219,27.4),(223,27.4),(227,27.4),(231,27.4),(235,27.4),(239,27.4),(243,27.4),(247,27.4),(251,27.4),(255,27.4),(259,27.4),(263,27.4),(267,27.4),(271,27.4),(275,27.4),(279,27.4),(286,27.4),(290,27.4),(294,27.4),(302,27.4),(306,27.4),(309,27.4),
 (214,27.8),(218,27.8),(222,27.8),(226,27.8),(230,27.8),(234,27.8),(238,27.8),(242,27.8),(246,27.8),(250,27.8),(254,27.8),(258,27.8),(262,27.8),(266,27.8),(270,27.8),(274,27.8),(278,27.8),(282,27.8),(286,27.8),(290,27.8),(294,27.8),(304,27.8),(308,27.8),
 (212,28.2),(216,28.2),(220,28.2),(224,28.2),(228,28.2),(232,28.2),(236,28.2),(240,28.2),(244,28.2),(248,28.2),(252,28.2),(256,28.2),(260,28.2),(264,28.2),(268,28.2),(272,28.2),(276,28.2),(280,28.2),(284,28.2),(288,28.2),(292,28.2),(296,28.2),(300,28.2),(304,28.2),(308,28.2),
 (214,28.6),(218,28.6),(222,28.6),(226,28.6),(232,28.6),(238,28.6),(244,28.6),(248,28.6),(260,28.6),(264,28.6),(270,28.6),(274,28.6),(278,28.6),(286,28.6),(302,28.6),(308,28.6),
 (212,29),(216,29),(220,29),(224,29),(228,29),(236,29),(242,29),(246,29),(250,29),(258,29),(262,29),(266,29),(272,29),(276,29),(280,29),(288,29),(297,29),(306,29),(309,29),
 (212,29.6),(221,29.6),(227,29.6),(246,29.6),(263,29.6),(273,29.6),(281,29.6),(297,29.6),(309,29.6),(212,30.2),(227,30.2),(246,30.2),(262,30.2),(308,30.2),(262,30.7),(246,30.3),(308,30.5),(226,30),
 (246,24.8),(255,24),(262,25.5),(272,25),(276,25.5),(284,26.2),(252,25.3),(268,25),(259,25)]

tick_x = [0,50,100,150,200,250,300,350]


def rows_to_xy(rows):
    xs, ys = [], []
    for level, row in rows:
        xs += row
        ys += [level] * len(row)
    return np.array(xs, float), np.array(ys, float)


def band_to_xy(rows):
    # every row of the band is used at both sets of x positions
    xs, ys = [], []
    for row_y in rows:
        xs += x_a + x_b
        ys += row_y + row_y
    return np.array(xs, float), np.array(ys, float)


def pairs(p):
    a = np.array(p, float)
    return a[:, 0], a[:, 1]


def panel(fig, left, right, top, bottom, xlim, ylim, yticks, ylabels=None):
    W, H = 3508.0, 2383.0
    ax = fig.add_axes([left / W, 1 - bottom / H, (right - left) / W, (bottom - top) / H])
    ax.set_xlim(*xlim)
    ax.set_ylim(*ylim)
    ax.set_xticks(tick_x)
    ax.set_yticks(yticks)
    if ylabels:
        ax.set_yticklabels(ylabels)
    ax.tick_params(labelsize=19, length=7, width=2, colors="#222222", pad=6)
    ax.spines["top"].set_color("#a0a0a0")
    ax.spines["top"].set_linewidth(4)
    ax.spines["left"].set_color("#808080")
    ax.spines["left"].set_linewidth(2)
    ax.spines["right"].set_color("#808080")
    ax.spines["right"].set_linewidth(2)
    ax.spines["bottom"].set_color("#222222")
    ax.spines["bottom"].set_linewidth(2.5)
    return ax


def dots(ax, x, y, color=BLUE):
    ax.scatter(x, y, s=MARK, color=color, linewidths=0)


fig = plt.figure(figsize=(35.08, 23.83), dpi=100)

# top row
ax = panel(fig, 85, 1630, 44, 711, (-18, 377), (-1.7, 25.1), [0, 5, 10, 15, 20])
for x, y in [band_to_xy(top_band), pairs(top_extra), pairs(top_other), pairs(top_red), pairs(top_orange)]:
    dots(ax, x, y)

ax = panel(fig, 1938, 3483, 44, 711, (0, 359.4), (0, 23.96), [0, 5, 10, 15, 20])
dots(ax, x_a + x_b, np.zeros(len(x_a + x_b)))
x, y = pairs(top_other)
dots(ax, x, y)
x, y = pairs(top_red)
dots(ax, x, y, "red")
x, y = pairs(top_orange)
dots(ax, x, y, "orange")

# middle row
ax = panel(fig, 114, 1646, 844, 1501, (-17.6, 377), (-1.34, 18.4), [0, 2.5, 5, 7.5, 10, 12.5, 15, 17.5],
           ["0.0", "2.5", "5.0", "7.5", "10.0", "12.5", "15.0", "17.5"])
h1_x, h1_y = rows_to_xy(hump1_rows)
h1s_x, h1s_y = pairs(hump1_sparse)
h2_x, h2_y = rows_to_xy(hump2_rows)
h2s_x, h2s_y = pairs(hump2_sparse)
for x, y in [band_to_xy(mid_band), pairs(mid_extra), rows_to_xy(hump1_low), rows_to_xy(hump2_low),
             (h1_x, h1_y), (h1s_x, h1s_y), (h2_x, h2_y), (h2s_x, h2s_y)]:
    dots(ax, x, y)

ax = panel(fig, 1950, 3486, 844, 1501, (0, 359.4), (0, 17.53), [0, 2, 4, 6, 8, 10, 12, 14, 16])
dots(ax, x_a + x_b, np.zeros(len(x_a + x_b)))
dots(ax, np.r_[h1_x, h1s_x], np.r_[h1_y, h1s_y], "red")
dots(ax, np.r_[h2_x, h2s_x], np.r_[h2_y, h2s_y], "orange")

# bottom row
ax = panel(fig, 85, 1630, 1632, 2298, (-18, 377), (-1.56, 33.2), [0, 5, 10, 15, 20, 25, 30])
for x, y in [band_to_xy(low_band), pairs(low_extra), pairs(low_blue), pairs(low_red), pairs(low_green), pairs(low_orange)]:
    dots(ax, x, y)

ax = panel(fig, 1938, 3483, 1632, 2298, (0, 359.4), (0, 31.6), [0, 5, 10, 15, 20, 25, 30])
dots(ax, x_a + x_b, np.zeros(len(x_a + x_b)))
x, y = pairs(low_blue)
dots(ax, x, y)
x, y = pairs(low_red)
dots(ax, x, y, "red")
x, y = pairs(low_green)
dots(ax, x, y, "green")
x, y = pairs(low_orange)
dots(ax, x, y, "orange")

fig.savefig("out.png", dpi=100)
